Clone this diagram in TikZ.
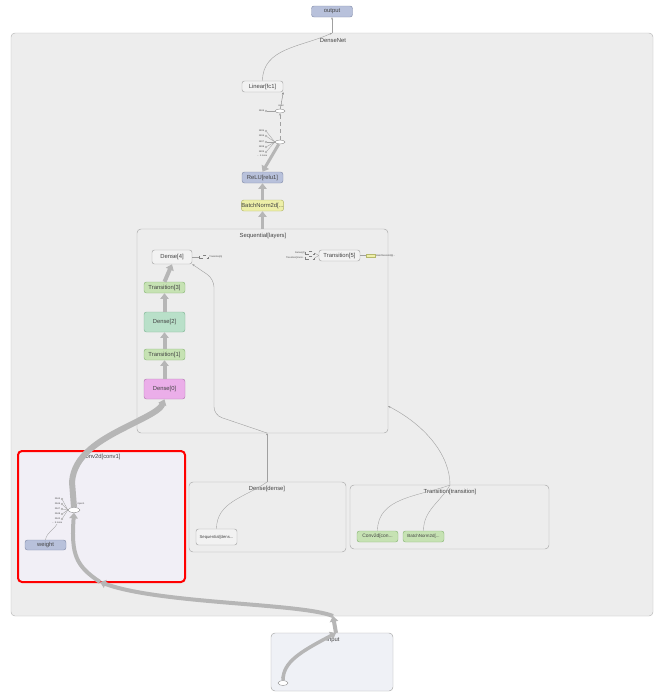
\documentclass[tikz,border=0pt]{standalone}
\usepackage{fontspec}
\setmainfont{Liberation Sans}
\usetikzlibrary{arrows.meta,shapes.geometric}
\newdimen\px \px=0.03cm
\definecolor{nblue}{HTML}{B8C1DB}\definecolor{nblueb}{HTML}{8790AD}
\definecolor{ngray}{HTML}{F2F2F2}\definecolor{ngrayb}{HTML}{A8A8A8}
\definecolor{nyel}{HTML}{EDEFA8}\definecolor{nyelb}{HTML}{B5B76C}
\definecolor{ngreen}{HTML}{C6E2B3}\definecolor{ngreenb}{HTML}{8DB97A}
\definecolor{nmint}{HTML}{B9E0C9}\definecolor{nmintb}{HTML}{83B798}
\definecolor{npink}{HTML}{EBAEE9}\definecolor{npinkb}{HTML}{B57DB3}
\definecolor{gbg}{HTML}{EDEDED}\definecolor{gbd}{HTML}{A9A9A9}
\definecolor{egray}{HTML}{B6B6B6}\definecolor{tgray}{HTML}{444444}
\definecolor{lgray}{HTML}{A0A0A0}
\tikzset{
  nd/.style={rounded corners=2.5\px, minimum width=41\px, minimum height=11\px, inner sep=0pt,
     font=\fontsize{5}{6}\selectfont, text=tgray, line width=0.4pt},
  bluen/.style={nd, fill=nblue, draw=nblueb},
  grayn/.style={nd, fill=ngray, draw=ngrayb},
  yeln/.style={nd, fill=nyel, draw=nyelb},
  greenn/.style={nd, fill=ngreen, draw=ngreenb},
  mintn/.style={nd, fill=nmint, draw=nmintb},
  pinkn/.style={nd, fill=npink, draw=npinkb},
  grp/.style={rounded corners=4\px, fill=gbg, draw=gbd, line width=0.4pt},
  glabel/.style={font=\fontsize{5}{6}\selectfont, text=tgray},
  tiny/.style={font=\fontsize{2}{2.4}\selectfont, text=tgray, inner sep=0.5pt},
  ell/.style={ellipse, draw=gray, fill=white, minimum width=10\px, minimum height=4\px, inner sep=0pt, line width=0.3pt},
  port/.style={circle, draw=gray, fill=white, minimum size=2\px, inner sep=0pt, line width=0.2pt},
  thinarrow/.style={draw=lgray, line width=0.35pt, -{Stealth[length=0.07cm,width=0.06cm]}},
  thinline/.style={draw=lgray, line width=0.3pt},
  fat/.style={draw=egray, line width=#1*0.03cm, -{Triangle[length=0.17cm,width=0.25cm]}},
  fat/.default=4,
}
\begin{document}
\begin{tikzpicture}[x=0.03cm,y=-0.03cm]
\useasboundingbox (0,0) rectangle (654,694);
\fill[white] (0,0) rectangle (654,694);
% groups
\draw[grp, draw=ngrayb!80] (11,33) rectangle (653,616);
\node[glabel] (lblDN) at (333,41) {DenseNet};
\draw[grp] (137,229) rectangle (388,433);
\node[glabel] (lblSeq) at (263,236) {Sequential[layers]};
\draw[grp] (189,482) rectangle (346,552);
\node[glabel] (lblDD) at (267,489) {Dense[dense]};
\draw[grp] (350,485) rectangle (549,549);
\node[glabel] (lblTT) at (450,492) {Transition[transition]};
\draw[rounded corners=4\px, fill={rgb,255:red,241;green,239;blue,246}, draw=red, line width=2\px] (18,451) rectangle (185,582);
\node[glabel] (lblConv) at (101,457) {Conv2d[conv1]};
\draw[grp, fill={rgb,255:red,239;green,241;blue,246}] (271,633) rectangle (393,691);
\node[glabel] (lblIn) at (333,640) {Input};
% boundary coordinates
\coordinate (dnTop) at (332,33);
\coordinate (dnBot) at (333,616);
\coordinate (seqTop) at (262.5,229);
\coordinate (seqBot) at (267,433);
\coordinate (seqRight) at (388,406);
\coordinate (ddTop) at (267,482);
\coordinate (ttTop) at (450,485);
\coordinate (convBot) at (100,582);
\coordinate (inTop) at (336,633);
% nodes
\node[bluen] (output) at (332,11.5) {output};
\node[grayn] (linear) at (262.5,86.5) {Linear[fc1]};
\node[ell] (e1) at (280,111) {};
\node[ell] (e2) at (280,142) {};
\node[bluen] (relu) at (262.5,177.5) {ReLU[relu1]};
\node[yeln] (bn) at (262.5,205.5) {BatchNorm2d[...};
\node[grayn, minimum width=40\px, minimum height=14\px] (dense4) at (172,257) {Dense[4]};
\node[greenn] (trans3) at (164.5,287.5) {Transition[3]};
\node[mintn, minimum height=20\px] (dense2) at (164.5,322) {Dense[2]};
\node[greenn] (trans1) at (164.5,354.5) {Transition[1]};
\node[pinkn, minimum height=20\px] (dense0) at (164.5,389) {Dense[0]};
\node[grayn] (trans5) at (339.5,255.5) {Transition[5]};
\node[bluen, minimum height=10\px] (weight) at (45.5,545) {weight};
\node[ell, minimum width=12\px, minimum height=5\px] (ec) at (74,510) {};
\node[grayn, minimum height=16\px, font=\fontsize{3.6}{4}\selectfont] (seqdens) at (216.5,537) {Sequential[dens...};
\node[greenn, font=\fontsize{4.2}{5}\selectfont] (convcon) at (377.5,536.5) {Conv2d[con...};
\node[greenn, font=\fontsize{3.8}{5}\selectfont] (bn2) at (423.5,536.5) {BatchNorm2d[...};
\node[ell, minimum height=5\px] (x1) at (283,683) {};
\node[tiny] (x1l) at (283,678) {x.1};
% top part edges
\draw[thinarrow] (dnTop) -- (output.south);
\draw[thinarrow] (linear.north) to[out=90,in=205] (dnTop);
\node[tiny] (e1l) at (281,105.5) {input};
\draw[thinarrow, draw=gray] (e1) -- (linear.south east);
\draw[thinarrow, dashed] (e2) -- (e1);
\node[port] (p0) at (266,111) {};
\node[tiny, anchor=east] (p0l) at (p0.west) {1846};
\draw[thinline] (p0) -- (e1);
\foreach \i/\yy/\t in {1/131/1835,2/136/1836,3/142/1837,4/147/1838,5/152/1839}{
  \node[port] (q\i) at (266,\yy) {};
  \node[tiny, anchor=east] (q\i l) at (q\i.west) {\t};
  \draw[thinline] (q\i) -- (e2.west);
}
\node[tiny, anchor=east] (qm) at (268,156) {... 1 more};
\draw[fat=3] (e2) -- (relu.north);
\draw[fat=3] (bn.north) -- (relu.south);
\draw[fat=3] (seqTop) -- (bn.south);
% sequential internals
\draw[fat=4] (dense0.north) -- (trans1.south);
\draw[fat=4] (trans1.north) -- (dense2.south);
\draw[fat=4] (dense2.north) -- (trans3.south);
\draw[fat=4] (trans3.north) -- (dense4.south);
\node[draw=gray, dashed, line width=0.2pt, minimum width=9\px, minimum height=3\px, inner sep=0pt] (stub1) at (204,257) {};
\draw[thinline] (dense4.east) -- (stub1.west);
\node[tiny, anchor=west] (stub1l) at (stub1.east) {Transition[5]};
\node[draw=gray, dashed, line width=0.2pt, minimum width=9\px, minimum height=3\px, inner sep=0pt] (stub2) at (310,253) {};
\node[draw=gray, dashed, line width=0.2pt, minimum width=9\px, minimum height=3\px, inner sep=0pt] (stub3) at (310,258) {};
\node[tiny, anchor=east] (stub2l) at (stub2.west) {Dense[4]};
\node[tiny, anchor=east] (stub3l) at (stub3.west) {Transition[transi...};
\draw[thinline] (stub2.east) -- (trans5.west);
\draw[thinline] (stub3.east) -- (trans5.west);
\node[draw=nyelb, fill=nyel, line width=0.2pt, minimum width=9\px, minimum height=3\px, inner sep=0pt] (stub4) at (371,255.5) {};
\draw[thinline] (trans5.east) -- (stub4.west);
\node[tiny, anchor=west] (stub4l) at (stub4.east) {BatchNorm2d[6]...};
\draw[thinarrow, rounded corners=8\px] (seqBot) -- (214,415) -- (214,279) -- (dense4.south east);
\draw[thinarrow] (ddTop) -- (seqBot);
\draw[thinarrow] (ttTop) .. controls (450,455) and (425,425) .. (seqRight);
% dense / transition internals
\draw[thinline] (seqdens.north) to[out=90,in=215] (ddTop);
\draw[thinline] (convcon.north) to[out=90,in=200] (ttTop);
\draw[thinline] (bn2.north) to[out=90,in=240] (ttTop);
% conv internals
\node[tiny] (ecl) at (81,504) {input.1};
\foreach \i/\yy/\t in {1/499/2544,2/504/2546,3/509/2547,4/514/2548,5/519/2542}{
  \node[port] (c\i) at (62,\yy) {};
  \node[tiny, anchor=east] (c\i l) at (c\i.west) {\t};
  \draw[thinline] (c\i) -- (ec.west);
}
\node[tiny, anchor=east] (cm) at (63,523) {... 3 more};
\draw[thinline] (weight.north) to[out=80,in=240] (57,524);
\draw[fat=6] (ec.north) -- (72,482) .. controls (74,455) and (100,440) .. (128,426) .. controls (150,415) and (160,410) .. (dense0.south);
\draw[fat=4] (convBot) .. controls (76,566) and (71,555) .. (ec.south);
\draw[fat=4] (dnBot) .. controls (300,603) and (160,604) .. (convBot);
\draw[fat=4] (inTop) -- (dnBot);
\draw[fat=3.5] (x1.north) .. controls (283,662) and (300,652) .. (inTop);
\end{tikzpicture}
\end{document}
